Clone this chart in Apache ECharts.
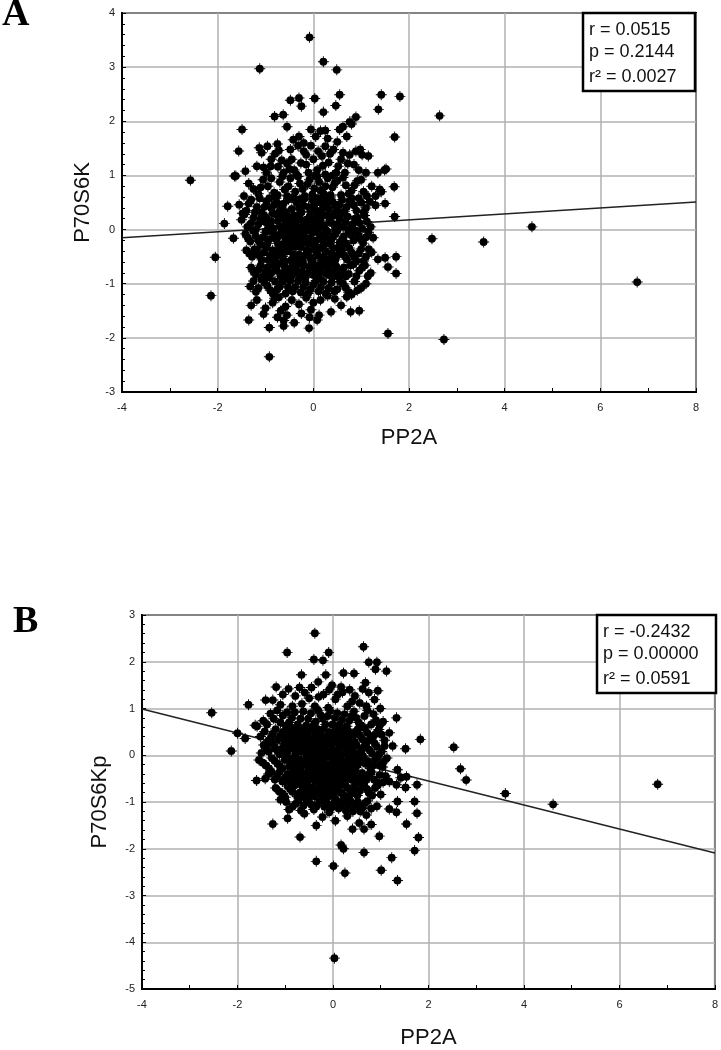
<!DOCTYPE html>
<html><head><meta charset="utf-8">
<script src="https://cdn.jsdelivr.net/npm/echarts@6/dist/echarts.min.js"></script>
<style>html,body{margin:0;padding:0;background:#fff}#c{width:721px;height:1050px}</style>
</head><body><div id="c"></div><script>
// ---- data ----
const pointsA = [
[-0.08,3.55],[0.21,3.10],[-1.12,2.97],[0.49,2.95],[1.42,2.49],[1.81,2.46],[0.55,2.49],[0.03,2.42],[2.64,2.10],[1.36,2.22],[-0.48,2.39],[-0.30,2.43],[-0.25,2.28],[0.21,2.17],[-0.63,2.12],[-0.81,2.09],[-1.49,1.85],[-1.56,1.45],[-1.13,1.51],[-0.96,1.54],[1.70,1.71],[0.89,2.08],[0.76,1.99],[0.55,1.85],[0.47,2.29],[0.89,1.45],[1.15,1.36],[1.52,1.12],[1.35,1.05],[1.69,0.79],[1.39,0.74],[-2.57,0.91],[-1.65,0.99],[-1.42,1.08],[-1.79,0.43],[-1.86,0.11],[-1.67,-0.16],[-2.05,-0.51],[-2.14,-1.22],[-1.35,-1.67],[-0.92,-2.35],[-0.92,-1.81],[-0.09,-1.82],[0.08,-1.67],[1.56,-1.92],[2.73,-2.03],[0.96,-1.50],[0.78,-1.52],[0.37,-1.52],[2.48,-0.17],[3.56,-0.23],[4.57,0.05],[6.77,-0.97],[1.73,-0.81],[1.73,-0.50],[1.56,-0.69],[1.70,0.24],[-1.04,-1.56],[-0.81,-1.27],[-0.62,-1.68],
[-0.55,1.90],[0.15,1.82],[0.25,1.83],[0.62,1.90],[0.80,1.95],
[-0.42,1.66],[-0.30,1.72],[-0.20,1.60],[0.05,1.72],[0.30,1.68],[0.50,1.62],[-0.75,1.58],[0.70,1.72],[-0.05,1.85],
[-1.08,1.42],[-0.72,1.46],[-0.48,1.48],[-0.15,1.38],[0.10,1.45],[0.18,1.36],[0.42,1.48],[0.62,1.42],[0.98,1.48],[1.02,1.38],[0.25,1.54],[-0.32,1.55],[-0.88,1.30],
[-1.62,0.99],[-1.18,1.17],[-1.04,1.15],[-0.89,1.17],[-0.74,1.16],[-0.55,1.22],[-0.40,1.10],[-0.26,1.23],[-0.10,1.05],[0.08,1.10],[0.20,1.18],[0.32,1.24],[0.52,1.17],[0.76,1.38],[0.66,1.05],[0.85,1.20],[1.49,1.10],[1.10,1.05],[-0.62,1.05],[0.40,1.00],[-0.15,1.20],
[-0.98,1.05],[-0.80,1.40],[-0.66,1.28],[-0.45,1.30],[-0.35,1.02],[-0.20,1.45],[0.00,1.30],[0.05,1.00],[0.25,1.02],[0.35,1.40],[0.48,1.05],[0.58,1.30],[0.72,1.22],[0.95,1.10],[-0.50,1.12],[-0.05,1.55],
[-1.45,0.62],[-1.25,0.75],[-1.05,0.92],[-0.95,0.80],[-0.82,0.68],[-0.70,0.88],[-0.60,0.74],[-0.48,0.95],[-0.38,0.70],[-0.28,0.85],[-0.18,0.62],[-0.08,0.92],[0.02,0.76],[0.12,0.88],[0.22,0.66],[0.30,0.95],[0.40,0.78],[0.50,0.90],[0.58,0.64],[0.68,0.82],[0.80,0.72],[0.92,0.90],[1.05,0.70],[1.22,0.80],[1.30,0.62],[1.42,0.70],[-1.15,0.66],[-0.55,0.62],[0.15,0.72],
[-1.35,0.85],[-1.10,0.78],[-0.88,0.95],[-0.75,0.64],[-0.65,0.98],[-0.52,0.80],[-0.42,0.60],[-0.32,0.98],[-0.22,0.75],[-0.12,0.84],[-0.02,0.65],[0.08,0.98],[0.25,0.80],[0.36,0.64],[0.45,0.86],[0.62,0.96],[0.74,0.66],[0.86,0.82],[1.00,0.92],[1.12,0.62],
[-1.55,0.46],[-1.40,0.35],[-1.30,0.55],[-1.18,0.42],[-1.08,0.32],[-0.98,0.52],[-0.88,0.40],[-0.78,0.58],[-0.70,0.34],[-0.62,0.48],[-0.52,0.56],[-0.45,0.38],[-0.35,0.50],[-0.25,0.32],[-0.18,0.58],[-0.10,0.42],[-0.02,0.55],[0.06,0.35],[0.15,0.50],[0.24,0.58],[0.32,0.38],[0.40,0.52],[0.50,0.36],[0.60,0.55],[0.70,0.42],[0.80,0.58],[0.90,0.35],[1.00,0.50],[1.10,0.40],[1.30,0.45],[1.50,0.48],[-0.85,0.30],[0.45,0.30],[-0.30,0.40],
[-1.48,0.30],[-1.35,0.48],[-1.22,0.32],[-1.12,0.58],[-1.02,0.42],[-0.92,0.58],[-0.82,0.46],[-0.74,0.48],[-0.66,0.40],[-0.58,0.32],[-0.40,0.58],[-0.28,0.56],[-0.20,0.44],[-0.06,0.34],[0.02,0.46],[0.10,0.58],[0.20,0.40],[0.28,0.48],[0.36,0.60],[0.46,0.44],[0.55,0.46],[0.65,0.34],[0.75,0.52],[0.85,0.45],[0.95,0.58],[1.05,0.32],[1.18,0.52],
[-1.50,0.18],[-1.38,0.05],[-1.25,0.22],[-1.15,0.10],[-1.05,0.26],[-0.95,0.02],[-0.88,0.15],[-0.78,0.28],[-0.70,0.06],[-0.62,0.20],[-0.55,0.00],[-0.48,0.14],[-0.40,0.26],[-0.33,0.04],[-0.25,0.18],[-0.15,0.08],[-0.08,0.24],[0.00,0.12],[0.08,0.02],[0.15,0.20],[0.22,0.08],[0.30,0.26],[0.38,0.12],[0.46,0.00],[0.55,0.20],[0.62,0.06],[0.72,0.24],[0.82,0.10],[0.92,0.22],[1.02,0.02],[1.12,0.15],[-1.00,0.14],[0.10,0.28],[-0.20,0.00],
[-1.44,0.28],[-1.30,0.12],[-1.20,0.00],[-1.10,0.20],[-0.98,0.22],[-0.92,0.08],[-0.83,0.02],[-0.74,0.16],[-0.66,0.28],[-0.58,0.10],[-0.52,0.24],[-0.44,0.04],[-0.36,0.16],[-0.29,0.28],[-0.21,0.10],[-0.12,0.18],[-0.04,0.02],[0.04,0.20],[0.12,0.10],[0.19,0.28],[0.26,0.00],[0.34,0.16],[0.42,0.26],[0.50,0.10],[0.58,0.28],[0.67,0.14],[0.77,0.02],[0.87,0.20],[0.97,0.12],[1.07,0.26],[1.20,0.05],
[-1.42,-0.08],[-1.32,-0.22],[-1.20,-0.12],[-1.10,-0.28],[-1.00,-0.05],[-0.92,-0.18],[-0.82,-0.10],[-0.74,-0.26],[-0.66,-0.04],[-0.58,-0.16],[-0.50,-0.28],[-0.42,-0.08],[-0.34,-0.20],[-0.26,-0.02],[-0.18,-0.14],[-0.10,-0.26],[-0.02,-0.06],[0.06,-0.20],[0.14,-0.10],[0.22,-0.28],[0.30,-0.04],[0.38,-0.18],[0.46,-0.08],[0.55,-0.24],[0.64,-0.12],[0.74,-0.02],[0.84,-0.20],[0.94,-0.10],[1.04,-0.25],[1.15,-0.05],[1.25,-0.15],[-0.55,-0.05],[0.25,-0.15],
[-1.37,-0.15],[-1.26,-0.02],[-1.15,-0.20],[-1.05,-0.14],[-0.96,-0.26],[-0.87,-0.02],[-0.78,-0.18],[-0.70,-0.10],[-0.62,-0.26],[-0.54,-0.12],[-0.46,-0.20],[-0.38,-0.02],[-0.30,-0.12],[-0.22,-0.24],[-0.14,-0.02],[-0.06,-0.16],[0.02,-0.28],[0.10,-0.04],[0.18,-0.18],[0.26,-0.08],[0.34,-0.26],[0.42,-0.12],[0.50,-0.02],[0.60,-0.18],[0.69,-0.26],[0.79,-0.10],[0.89,-0.02],[0.99,-0.18],[1.10,-0.14],
[-1.40,-0.38],[-1.28,-0.50],[-1.18,-0.40],[-1.08,-0.56],[-0.98,-0.34],[-0.90,-0.48],[-0.80,-0.58],[-0.72,-0.36],[-0.64,-0.50],[-0.55,-0.40],[-0.46,-0.56],[-0.38,-0.32],[-0.30,-0.46],[-0.22,-0.58],[-0.14,-0.38],[-0.06,-0.52],[0.02,-0.34],[0.10,-0.48],[0.18,-0.58],[0.26,-0.40],[0.34,-0.54],[0.42,-0.34],[0.50,-0.48],[0.60,-0.38],[0.70,-0.55],[0.80,-0.42],[0.90,-0.58],[1.00,-0.36],[1.10,-0.50],[1.22,-0.42],[1.35,-0.55],[1.50,-0.52],[-0.60,-0.30],[0.55,-0.32],
[-1.34,-0.44],[-1.23,-0.36],[-1.13,-0.48],[-1.03,-0.42],[-0.94,-0.56],[-0.85,-0.38],[-0.76,-0.48],[-0.68,-0.42],[-0.60,-0.58],[-0.50,-0.34],[-0.42,-0.46],[-0.34,-0.56],[-0.26,-0.32],[-0.18,-0.48],[-0.10,-0.40],[-0.02,-0.56],[0.06,-0.42],[0.14,-0.34],[0.22,-0.50],[0.30,-0.58],[0.38,-0.44],[0.46,-0.56],[0.55,-0.42],[0.65,-0.48],[0.75,-0.34],[0.85,-0.50],[0.95,-0.44],[1.05,-0.58],[1.16,-0.36],
[-1.30,-0.70],[-1.20,-0.84],[-1.10,-0.66],[-1.00,-0.78],[-0.92,-0.88],[-0.84,-0.64],[-0.76,-0.76],[-0.68,-0.86],[-0.60,-0.68],[-0.52,-0.80],[-0.44,-0.62],[-0.36,-0.74],[-0.28,-0.88],[-0.20,-0.66],[-0.12,-0.80],[-0.04,-0.62],[0.04,-0.76],[0.12,-0.88],[0.20,-0.68],[0.28,-0.82],[0.36,-0.64],[0.44,-0.78],[0.54,-0.88],[0.64,-0.70],[0.74,-0.82],[0.84,-0.64],[0.96,-0.76],[1.08,-0.66],[1.20,-0.80],[-0.45,-0.85],[0.35,-0.85],
[-1.25,-0.78],[-1.15,-0.74],[-1.05,-0.86],[-0.96,-0.70],[-0.88,-0.80],[-0.80,-0.70],[-0.72,-0.62],[-0.64,-0.80],[-0.56,-0.88],[-0.48,-0.72],[-0.40,-0.80],[-0.32,-0.64],[-0.24,-0.78],[-0.16,-0.88],[-0.08,-0.70],[0.00,-0.84],[0.08,-0.66],[0.16,-0.78],[0.24,-0.62],[0.32,-0.74],[0.40,-0.88],[0.48,-0.68],[0.58,-0.78],[0.68,-0.86],[0.78,-0.66],[0.90,-0.86],[1.02,-0.70],[1.14,-0.86],
[-1.25,-0.95],[-1.15,-1.08],[-1.02,-0.98],[-0.90,-1.12],[-0.80,-0.96],[-0.70,-1.05],[-0.58,-1.18],[-0.48,-0.94],[-0.38,-1.06],[-0.26,-1.16],[-0.16,-0.98],[-0.06,-1.10],[0.06,-0.94],[0.16,-1.06],[0.26,-1.18],[0.38,-0.98],[0.50,-1.10],[0.62,-1.00],[0.74,-1.16],[0.86,-0.96],[1.00,-1.08],[1.10,-1.00],[-1.32,-1.05],[0.80,-1.20],
[-1.20,-1.15],[-1.08,-0.92],[-0.96,-1.04],[-0.85,-1.18],[-0.75,-1.10],[-0.64,-0.96],[-0.53,-1.06],[-0.43,-1.14],[-0.32,-0.95],[-0.21,-1.06],[-0.11,-1.18],[0.00,-1.02],[0.11,-1.14],[0.21,-0.96],[0.32,-1.08],[0.44,-1.14],[0.56,-0.96],[0.68,-1.08],[0.92,-1.12],
[-1.30,-1.40],[-1.18,-1.30],[-1.00,-1.45],[-0.85,-1.35],[-0.72,-1.25],[-0.58,-1.42],[-0.45,-1.30],[-0.30,-1.38],[-0.15,-1.26],[0.00,-1.35],[-0.05,-1.48],[0.15,-1.30],[0.30,-1.22],[0.45,-1.28],[0.58,-1.40],[0.70,-1.24],[-0.68,-1.50],
[-0.75,-1.62],[-0.55,-1.58],[-0.40,-1.72],[-0.25,-1.55],[-0.08,-1.62],[0.12,-1.58],[-0.62,-1.78]
];
const pointsB = [
[-0.38,2.61],[0.64,2.32],[-0.96,2.20],[-0.09,2.20],[-0.40,2.05],[-0.21,2.03],[0.75,1.99],[0.92,1.99],[1.12,1.80],[0.89,1.84],[0.22,1.76],[0.44,1.75],[-0.15,1.72],[-0.66,1.72],[-1.77,1.08],[-2.54,0.91],[-2.00,0.47],[-1.84,0.36],[-2.13,0.09],[-1.63,0.64],[-1.60,-0.54],[-1.26,-1.47],[-0.69,-1.75],[-0.35,-2.27],[0.01,-2.37],[0.25,-2.52],[0.03,-4.34],[1.01,-2.46],[1.23,-2.19],[1.35,-2.68],[1.71,-2.04],[1.79,-1.76],[1.76,-1.24],[1.71,-0.99],[1.83,0.34],[1.33,0.80],[1.52,0.14],[2.53,0.17],[2.67,-0.29],[2.79,-0.53],[3.61,-0.82],[4.61,-1.05],[6.80,-0.62],[0.65,-2.08],[0.17,-1.92],[0.22,-2.00],[0.41,-1.58],[0.65,-1.58],[0.97,-1.73],[0.80,-1.48],[1.54,-1.47],[1.33,-1.22],[1.18,-1.15],[1.35,-0.99],[1.52,-0.69],[1.54,-0.46],[1.76,-0.63],[1.35,-0.31],
[0.99,1.00],[1.18,0.48],[1.25,0.20],[1.13,-0.06],[1.04,-0.25],[1.18,-0.56],[1.33,-0.63],[1.42,-0.48],[0.75,-0.80],[0.92,-1.09],
[-1.19,1.46],[-0.93,1.42],[-0.79,1.27],[-0.59,1.34],[-0.31,1.57],[-0.02,1.50],[0.17,1.46],[0.46,1.27],[0.75,1.34],[0.56,1.12],[0.94,1.38],[0.87,1.19],[-1.41,1.18],[-1.26,1.18],[-0.45,1.45],[-0.20,1.30],[0.05,1.20],[0.30,1.05],[-0.65,1.10],[-0.10,1.02],[0.20,1.35],[-0.85,1.05],[0.68,1.55],
[-1.05,1.30],[-0.70,1.45],[-0.50,1.22],[-0.38,1.05],[-0.08,1.40],[0.10,1.30],[0.35,1.40],[0.40,1.15],[0.62,1.42],[0.70,1.05],[-0.30,1.25],[-1.10,1.08],
[-1.17,0.96],[-1.05,0.85],[-1.31,0.89],[-1.46,0.74],[-1.59,0.62],[-0.92,0.70],[-0.80,0.92],[-0.68,0.78],[-0.56,0.64],[-0.46,0.90],[-0.36,0.72],[-0.26,0.86],[-0.16,0.66],[-0.06,0.95],[0.04,0.80],[0.14,0.66],[0.24,0.88],[0.34,0.74],[0.44,0.94],[0.54,0.70],[0.66,0.84],[0.80,0.66],[0.90,0.75],[1.05,0.72],[-0.98,0.62],
[-1.38,0.66],[-1.24,0.78],[-1.10,0.70],[-0.96,0.92],[-0.86,0.80],[-0.74,0.66],[-0.62,0.94],[-0.52,0.78],[-0.41,0.64],[-0.31,0.96],[-0.21,0.78],[-0.11,0.84],[-0.01,0.66],[0.09,0.90],[0.19,0.76],[0.29,0.62],[0.39,0.84],[0.49,0.80],[0.60,0.62],[0.72,0.96],[0.85,0.88],[0.98,0.64],
[-1.43,0.51],[-1.30,0.38],[-1.20,0.56],[-1.10,0.42],[-1.00,0.32],[-0.90,0.50],[-0.80,0.38],[-0.72,0.58],[-0.64,0.44],[-0.56,0.30],[-0.48,0.52],[-0.40,0.36],[-0.32,0.56],[-0.24,0.42],[-0.16,0.32],[-0.08,0.50],[0.00,0.38],[0.08,0.58],[0.16,0.44],[0.24,0.32],[0.32,0.52],[0.42,0.40],[0.52,0.56],[0.62,0.34],[0.72,0.48],[0.84,0.40],[0.96,0.55],[1.08,0.32],[-0.60,0.55],
[-1.52,0.40],[-1.36,0.30],[-1.26,0.46],[-1.15,0.34],[-1.05,0.50],[-0.95,0.40],[-0.86,0.58],[-0.76,0.46],[-0.68,0.34],[-0.52,0.40],[-0.44,0.58],[-0.36,0.46],[-0.28,0.34],[-0.20,0.56],[-0.12,0.40],[-0.04,0.30],[0.04,0.48],[0.12,0.34],[0.20,0.54],[0.28,0.42],[0.37,0.32],[0.47,0.50],[0.57,0.42],[0.67,0.58],[0.78,0.36],[0.90,0.46],[1.02,0.44],
[-1.45,0.22],[-1.35,0.08],[-1.22,0.18],[-1.12,0.02],[-1.02,0.24],[-0.94,0.10],[-0.86,0.28],[-0.78,0.04],[-0.70,0.18],[-0.62,0.26],[-0.54,0.06],[-0.46,0.20],[-0.38,0.00],[-0.30,0.14],[-0.22,0.28],[-0.14,0.06],[-0.06,0.22],[0.02,0.10],[0.10,0.26],[0.18,0.02],[0.26,0.16],[0.34,0.28],[0.42,0.06],[0.50,0.20],[0.60,0.10],[0.70,0.26],[0.82,0.04],[0.92,0.18],[1.02,0.08],[-0.25,0.05],
[-1.50,0.05],[-1.40,0.16],[-1.28,0.26],[-1.17,0.10],[-1.07,0.14],[-0.98,0.02],[-0.90,0.20],[-0.82,0.14],[-0.74,0.26],[-0.66,0.08],[-0.58,0.18],[-0.50,0.28],[-0.42,0.12],[-0.34,0.24],[-0.26,0.14],[-0.18,0.18],[-0.10,0.02],[-0.02,0.16],[0.06,0.04],[0.14,0.16],[0.22,0.24],[0.30,0.06],[0.38,0.18],[0.46,0.28],[0.55,0.04],[0.65,0.18],[0.76,0.12],[0.87,0.26],[0.97,0.02],[1.08,0.20],
[-1.55,-0.10],[-1.40,-0.22],[-1.28,-0.06],[-1.16,-0.18],[-1.06,-0.28],[-0.96,-0.04],[-0.88,-0.16],[-0.80,-0.28],[-0.72,-0.08],[-0.64,-0.20],[-0.56,-0.02],[-0.48,-0.14],[-0.40,-0.26],[-0.32,-0.06],[-0.24,-0.18],[-0.16,-0.28],[-0.08,-0.04],[0.00,-0.16],[0.08,-0.26],[0.16,-0.08],[0.24,-0.20],[0.32,-0.02],[0.40,-0.14],[0.48,-0.26],[0.58,-0.06],[0.68,-0.18],[0.78,-0.28],[0.88,-0.10],[0.98,-0.22],
[-1.47,-0.16],[-1.34,-0.28],[-1.22,-0.12],[-1.11,-0.24],[-1.01,-0.10],[-0.92,-0.24],[-0.84,-0.06],[-0.76,-0.18],[-0.68,-0.28],[-0.60,-0.12],[-0.52,-0.24],[-0.44,-0.04],[-0.36,-0.16],[-0.28,-0.28],[-0.20,-0.08],[-0.12,-0.20],[-0.04,-0.28],[0.04,-0.06],[0.12,-0.18],[0.20,-0.28],[0.28,-0.12],[0.36,-0.24],[0.44,-0.06],[0.53,-0.18],[0.63,-0.02],[0.73,-0.12],[0.83,-0.22],[0.93,-0.04],[1.06,-0.14],
[-1.35,-0.40],[-1.22,-0.52],[-1.12,-0.36],[-1.00,-0.48],[-0.90,-0.58],[-0.82,-0.34],[-0.74,-0.46],[-0.66,-0.56],[-0.58,-0.38],[-0.50,-0.50],[-0.42,-0.32],[-0.34,-0.44],[-0.26,-0.56],[-0.18,-0.36],[-0.10,-0.50],[-0.02,-0.58],[0.06,-0.34],[0.14,-0.46],[0.22,-0.56],[0.30,-0.38],[0.38,-0.52],[0.46,-0.34],[0.56,-0.46],[0.66,-0.58],[0.76,-0.40],[0.86,-0.52],[0.98,-0.42],[1.05,-0.58],
[-1.42,-0.50],[-1.28,-0.36],[-1.17,-0.46],[-1.06,-0.56],[-0.95,-0.40],[-0.86,-0.48],[-0.78,-0.58],[-0.70,-0.36],[-0.62,-0.48],[-0.54,-0.58],[-0.46,-0.42],[-0.38,-0.54],[-0.30,-0.34],[-0.22,-0.46],[-0.14,-0.58],[-0.06,-0.38],[0.02,-0.48],[0.10,-0.56],[0.18,-0.40],[0.26,-0.50],[0.34,-0.32],[0.42,-0.46],[0.51,-0.56],[0.61,-0.38],[0.71,-0.50],[0.81,-0.36],[0.92,-0.58],[1.10,-0.44],
[-1.20,-0.70],[-1.05,-0.82],[-0.95,-0.66],[-0.85,-0.78],[-0.75,-0.88],[-0.66,-0.64],[-0.58,-0.76],[-0.50,-0.86],[-0.42,-0.68],[-0.34,-0.80],[-0.26,-0.62],[-0.18,-0.74],[-0.10,-0.88],[-0.02,-0.66],[0.06,-0.78],[0.14,-0.62],[0.22,-0.86],[0.30,-0.70],[0.38,-0.82],[0.46,-0.64],[0.56,-0.76],[0.66,-0.68],[0.88,-0.70],[1.00,-0.84],
[-1.12,-0.78],[-1.00,-0.90],[-0.90,-0.72],[-0.80,-0.64],[-0.70,-0.80],[-0.62,-0.88],[-0.54,-0.66],[-0.46,-0.78],[-0.38,-0.88],[-0.30,-0.70],[-0.22,-0.84],[-0.14,-0.66],[-0.06,-0.78],[0.02,-0.88],[0.10,-0.70],[0.18,-0.80],[0.26,-0.64],[0.34,-0.88],[0.42,-0.74],[0.51,-0.86],[0.61,-0.64],[0.71,-0.72],[0.82,-0.86],[0.94,-0.64],
[-0.98,-1.00],[-0.85,-1.10],[-0.72,-0.96],[-0.62,-1.08],[-0.50,-1.00],[-0.40,-1.16],[-0.28,-0.98],[-0.18,-1.10],[-0.08,-1.22],[0.02,-1.02],[0.12,-1.14],[0.22,-0.96],[0.32,-1.08],[0.42,-1.20],[0.52,-1.00],[0.62,-1.12],[0.72,-0.98],[-1.10,-0.95],
[-0.92,-1.16],[-0.78,-1.04],[-0.67,-1.18],[-0.56,-0.94],[-0.45,-1.06],[-0.34,-1.08],[-0.23,-0.94],[-0.13,-1.02],[-0.03,-1.12],[0.07,-0.96],[0.17,-1.06],[0.27,-1.18],[0.37,-0.98],[0.47,-1.10],[0.57,-1.20],[0.67,-1.02],[0.80,-1.14],
[-0.95,-1.35],[-0.35,-1.50],[-0.22,-1.32],[0.05,-1.40],[0.30,-1.30],[0.55,-1.45],[0.70,-1.28],[-0.60,-1.25]
];
const fitA = [[-4,-0.15],[8,0.51]];
const fitB = [[-4,0.99],[8,-2.09]];
const statsA = ['r = 0.0515','p = 0.2144','r\u00B2 = 0.0027'];
const statsB = ['r = -0.2432','p = 0.00000','r\u00B2 = 0.0591'];
const xName = 'PP2A';
const yNames = ['P70S6K','P70S6Kp'];
const panelLabels = ['A','B'];

// ---- chart ----
const chart = echarts.init(document.getElementById('c'), null, {renderer:'canvas'});
const SANS = '"Liberation Sans", Arial, sans-serif';
const MARK = 'path://M0,5A5,5 0 1 1 10,5A5,5 0 1 1 0,5ZM-2,4.4H12V5.6H-2ZM4.4,-2H5.6V12H4.4Z';
const grids = [
  {left:122, top:13, width:574, height:379},
  {left:142, top:615, width:574, height:382}
];
function xAxisCfg(gi, gap){
  return {type:'value', gridIndex:gi, min:-4, max:8, interval:2,
    name:xName, nameLocation:'middle', nameGap:gap,
    nameTextStyle:{fontFamily:SANS, fontSize:22, color:'#111'},
    axisLine:{show:true, onZero:false, lineStyle:{color:'#000', width:2}},
    axisTick:{show:true, inside:true, length:4, lineStyle:{color:'#000', width:1}},
    minorTick:{show:true, splitNumber:2, length:4, lineStyle:{color:'#000', width:1}},
    splitLine:{show:true, lineStyle:{color:'#b0b0b0', width:1.5}},
    minorSplitLine:{show:false},
    axisLabel:{fontSize:11, color:'#222', margin:10, fontFamily:SANS}
  };
}
function yAxisCfg(gi, min, max, name, gap){
  return {type:'value', gridIndex:gi, min:min, max:max, interval:1,
    name:name, nameLocation:'middle', nameGap:gap, nameRotate:90,
    nameTextStyle:{fontFamily:SANS, fontSize:22, color:'#111'},
    axisLine:{show:true, onZero:false, lineStyle:{color:'#000', width:2}},
    axisTick:{show:true, inside:true, length:4, lineStyle:{color:'#000', width:1}},
    minorTick:{show:true, splitNumber:5, length:3, lineStyle:{color:'#000', width:1}},
    splitLine:{show:true, lineStyle:{color:'#b0b0b0', width:1.5}},
    minorSplitLine:{show:false},
    axisLabel:{fontSize:11, color:'#222', margin:7, fontFamily:SANS}
  };
}
function statBox(x, y, w, h, lines){
  const els = [{type:'rect', shape:{x:x, y:y, width:w, height:h}, style:{fill:'#fff', stroke:'#000', lineWidth:2.5}, z:100}];
  const offs = [17, 39, 64];
  lines.forEach((t,i)=>{
    els.push({type:'text', x:x+6, y:y+offs[i], z:101,
      style:{text:t, fill:'#111', font:'18px ' + SANS, align:'left', verticalAlign:'middle'}});
  });
  return els;
}
function scatterSeries(gi, data){
  return {type:'scatter', xAxisIndex:gi, yAxisIndex:gi, data:data, symbol:MARK, symbolSize:11,
    itemStyle:{color:'#000', opacity:1}, z:2, silent:true, large:false};
}
function fitSeries(gi, data){
  return {type:'line', xAxisIndex:gi, yAxisIndex:gi, data:data, showSymbol:false, symbol:'none',
    lineStyle:{color:'#222', width:1.5}, z:1, silent:true};
}
const option = {
  backgroundColor:'#fff',
  animation:false,
  grid: grids.map(g=>Object.assign({show:true, borderColor:'#000', borderWidth:2, backgroundColor:'transparent', containLabel:false}, g)),
  xAxis:[xAxisCfg(0,35), xAxisCfg(1,38)],
  yAxis:[yAxisCfg(0,-3,4,yNames[0],26), yAxisCfg(1,-5,3,yNames[1],31)],
  series:[fitSeries(0, fitA), scatterSeries(0, pointsA), fitSeries(1, fitB), scatterSeries(1, pointsB)],
  graphic:[
    {type:'text', x:2, y:15, style:{text:panelLabels[0], font:'bold 38px "Liberation Serif", "Times New Roman", serif', fill:'#000', align:'left', verticalAlign:'middle'}},
    {type:'text', x:13, y:622, style:{text:panelLabels[1], font:'bold 38px "Liberation Serif", "Times New Roman", serif', fill:'#000', align:'left', verticalAlign:'middle'}}
  ].concat(statBox(583,13,112,78,statsA), statBox(597,615,119,78,statsB))
};
chart.setOption(option);
</script></body></html>
